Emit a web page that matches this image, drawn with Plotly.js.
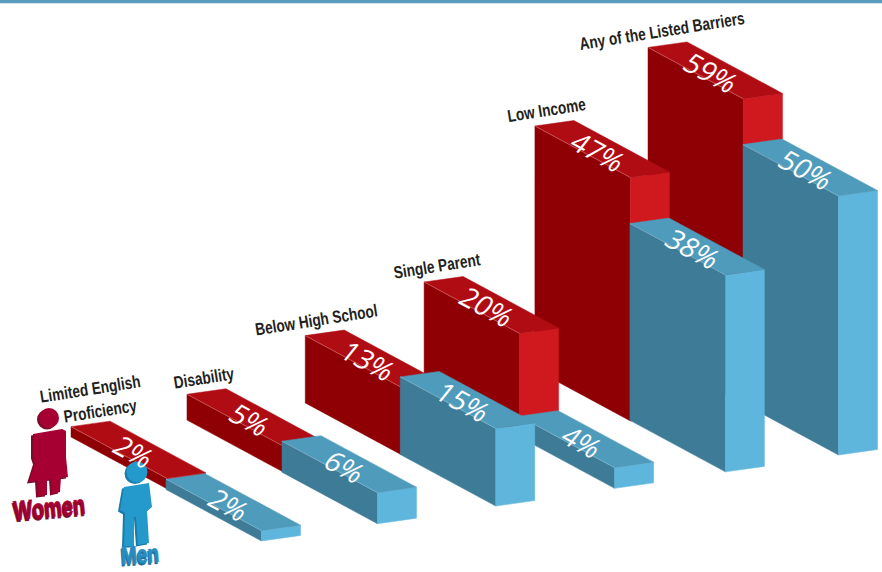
<!DOCTYPE html>
<html>
<head>
<meta charset="utf-8">
<script src="https://cdn.plot.ly/plotly-3.0.1.min.js"></script>
<style>html,body{margin:0;padding:0;background:#fff}#chart{width:882px;height:572px}</style>
</head>
<body>
<div id="chart"></div>
<script>
// Share of workers facing each barrier, by gender
const categories = ["Limited English|Proficiency", "Disability", "Below High School", "Single Parent", "Low Income", "Any of the Listed Barriers"];
const women = [2, 5, 13, 20, 47, 59];
const men = [2, 6, 15, 4, 38, 50];

// Spacing of the groups along the receding row
const groupSlot = [0, 1.005, 2.03, 3.06, 4.02, 5];

// Oblique projection of the bars onto the page
const LENGTH = [95.5, 51.5];      // along the long side of a bar
const WIDTH = [39, -5.5];         // across the short side of a bar
const PER_POINT = 5.18;           // page pixels of height per percentage point
const SERIES = [
  {values: women, start: [71, 437], step: [115.4, -16.8], top: "#b00c14", front: "#8e0003", side: "#d0181f", edge: "#d9757a"},
  {values: men, start: [166, 489.5], step: [115.4, -17.2], top: "#4f9bbc", front: "#3e7b97", side: "#5fb6dd", edge: "#8cbcd2"}
];

function groundOf(s, i) {
  return [s.start[0] + groupSlot[i] * s.step[0], s.start[1] + groupSlot[i] * s.step[1]];
}
function corner(base, along, across, height) {
  return [base[0] + along * LENGTH[0] + across * WIDTH[0],
          base[1] + along * LENGTH[1] + across * WIDTH[1] - height];
}
function face(points, color) {
  return {type: "scatter", mode: "lines", fill: "toself", fillcolor: color,
    x: points.map(p => p[0]).concat(points[0][0]), y: points.map(p => p[1]).concat(points[0][1]),
    line: {width: 0.5, color: color}, hoverinfo: "skip", showlegend: false};
}

const traces = [];
const annotations = [];

// Back groups are drawn first so nearer bars overlap them
for (let i = categories.length - 1; i >= 0; i--) {
  SERIES.forEach(s => {
    const h = s.values[i] * PER_POINT;
    const base = groundOf(s, i);
    traces.push(face([corner(base,0,0,h), corner(base,1,0,h), corner(base,1,0,0), corner(base,0,0,0)], s.front));
    traces.push(face([corner(base,1,0,h), corner(base,1,1,h), corner(base,1,1,0), corner(base,1,0,0)], s.side));
    traces.push(face([corner(base,0,0,h), corner(base,0,1,h), corner(base,1,1,h), corner(base,1,0,h)], s.top));
    const a = corner(base,0,0,h), b = corner(base,1,0,h);
    traces.push({type: "scatter", mode: "lines", x: [a[0], b[0]], y: [a[1], b[1]],
      line: {width: 0.6, color: s.edge}, hoverinfo: "skip", showlegend: false});
    const c = corner(base,0.5,0.5,h);
    annotations.push({x: c[0] - 4, y: c[1] + 1.5, text: s.values[i] + "%", showarrow: false,
      font: {family: "Open Sans, sans-serif", size: 22, color: "#ffffff"}});
  });
}

// Category captions sit above the back corner of the women's bar
const captionShift = [29, 17, 11, 13, 12, 14];
categories.forEach((name, i) => {
  const c = corner(groundOf(SERIES[0], i), 0, 0, women[i] * PER_POINT);
  const lines = name.split("|");
  lines.forEach((line, k) => {
    const back = lines.length - 1 - k;
    annotations.push({x: c[0] + captionShift[i] - back * 10, y: c[1] - 16 - back * 22, text: line, textangle: -9, showarrow: false,
      font: {family: "Liberation Sans, sans-serif", size: 17.5, color: "#231f20", weight: 700}});
  });
});

function legendWord(x, y, text, color, shade, angle, size) {
  [[x - 1, y + 1.5, shade], [x, y, color]].forEach(([ax, ay, fill]) => {
    annotations.push({x: ax, y: ay, text: text, textangle: angle, showarrow: false,
      font: {family: "Liberation Sans, sans-serif", size: size, color: fill, weight: 700}});
  });
}
legendWord(49, 508, "Women", "#a60033", "#7c0a2a", -5, 27);
legendWord(140, 554, "Men", "#2a8dc0", "#1b6f9b", -4, 25);

// Pictogram figures for the two series
function pathOf(points, dx, dy) {
  return "M" + points.map(p => (p[0] + dx) + "," + (p[1] + dy)).join("L") + "Z";
}
function figure(parts, head, color, shade) {
  const out = [];
  [[-2, 1.5, shade], [0, 0, color]].forEach(([dx, dy, fill]) => {
    parts.forEach(part => out.push({type: "path", path: pathOf(part, dx, dy), fillcolor: fill, line: {width: 0}, layer: "above"}));
    out.push({type: "circle", x0: head[0] - head[2] + dx, x1: head[0] + head[2] + dx, y0: head[1] - head[2] + dy, y1: head[1] + head[2] + dy,
      fillcolor: fill, line: {width: 0}, layer: "above"});
  });
  return out;
}
const womanBody = [
  [[33,434],[62,429],[66,431],[66,457],[68,477],[29,482],[35,463],[33,457]],
  [[37,480],[47,479],[47,495],[38,496]],
  [[51,478],[61,477],[60,492],[52,494]]
];
const manBody = [
  [[124,487],[149,483],[152,507],[147,511],[149,543],[138,545],[136,517],[134,517],[134,546],[124,546],[125,513],[120,510]]
];

const shapes = [
  {type: "rect", xref: "paper", yref: "paper", x0: 0, x1: 1, y0: 1, y1: 0.9945, fillcolor: "#5a9bbd", line: {width: 0}}
].concat(figure(womanBody, [49, 418, 10], "#a60033", "#7c0a2a"))
 .concat(figure(manBody, [137, 472, 10.5], "#2399cc", "#1b7ba6"));

// Percent labels lie flat on the bar tops; captions use a condensed setting
function reshapeText() {
  const squeeze = (el, sx) => {
    const box = el.getBBox();
    const cx = box.x + box.width / 2, cy = box.y + box.height / 2;
    el.setAttribute("transform", `translate(${cx},${cy}) scale(${sx},1) translate(${-cx},${-cy})`);
  };
  document.querySelectorAll("#chart .annotation-text").forEach(el => {
    const text = el.textContent;
    if (/%$/.test(text)) {
      const box = el.getBBox();
      const cx = box.x + box.width / 2, cy = box.y + box.height / 2;
      const ux = 0.88 * 1.25, uy = 0.475 * 1.25;   // baseline follows the long edge
      const vx = 0.62 * 1.3, vy = -0.78 * 1.3;     // glyph height leans toward the short edge
      el.setAttribute("transform", `translate(${cx},${cy}) matrix(${ux},${uy},${-vx},${-vy},0,0) translate(${-cx},${-cy})`);
    } else if (text === "Women" || text === "Men") {
      squeeze(el, text === "Women" ? 0.74 : 0.76);
      el.style.stroke = el.style.fill;
      el.style.strokeWidth = "0.7px";
    } else {
      squeeze(el, 0.78);
    }
  });
}

Plotly.newPlot("chart", traces, {
  width: 882, height: 572,
  margin: {l: 0, r: 0, t: 0, b: 0},
  paper_bgcolor: "#ffffff", plot_bgcolor: "#ffffff",
  showlegend: false,
  xaxis: {range: [0, 882], visible: false, fixedrange: true},
  yaxis: {range: [572, 0], visible: false, fixedrange: true},
  shapes: shapes,
  annotations: annotations
}, {displayModeBar: false, staticPlot: true}).then(reshapeText);
</script>
</body>
</html>
